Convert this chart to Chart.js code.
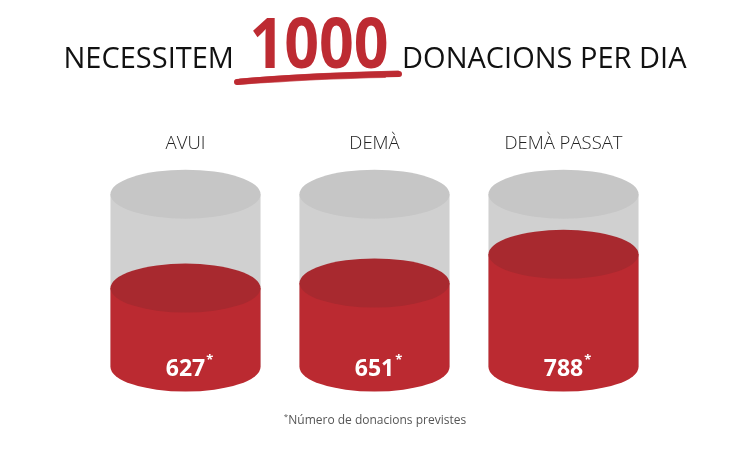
<!DOCTYPE html>
<html>
<head>
<meta charset="utf-8">
<script src="https://cdn.jsdelivr.net/npm/chart.js@4.4.1/dist/chart.umd.min.js"></script>
<style>
  html, body { margin: 0; padding: 0; background: #fff; }
  #wrap { position: relative; width: 750px; height: 462px; font-family: "Open Sans", sans-serif; }
  #title {
    position: absolute; left: 0; top: 6px; width: 750px;
    display: flex; justify-content: center; align-items: baseline;
    color: #111; font-size: 29px; line-height: 1;
  }
  #title .big {
    display: inline-block; color: #bd2b32; font-weight: 700; font-size: 70px;
    transform: scaleX(0.87); transform-origin: center;
    margin: 0 3px 0 5px;
  }
  #scribble { position: absolute; left: 0; top: 0; }
  #note {
    position: absolute; left: 0; top: 410px; width: 750px; text-align: center;
    font-size: 12px; color: #555;
  }
  #note sup { font-size: 8px; }
  canvas { position: absolute; left: 0; top: 0; }
</style>
</head>
<body>
<div id="wrap">
  <canvas id="cylChart" width="750" height="462"></canvas>
  <div id="title"><span>NECESSITEM</span><span class="big">1000</span><span>DONACIONS PER DIA</span></div>
  <svg id="scribble" width="750" height="100">
    <path d="M237 82 C 290 77, 350 75, 399 74" stroke="#bd2b32" stroke-width="6" fill="none" stroke-linecap="round"/>
    <path d="M240 80 C 300 75, 350 73, 398 72" stroke="#bd2b32" stroke-width="3" fill="none" stroke-linecap="round" opacity="0.8"/>
    <path d="M238 84 C 280 81, 330 78, 385 77" stroke="#bd2b32" stroke-width="2" fill="none" stroke-linecap="round" opacity="0.7"/>
  </svg>
  <div id="note"><sup>*</sup>Número de donacions previstes</div>
</div>
<script>
const days = ["AVUI", "DEMÀ", "DEMÀ PASSAT"];
const donations = [627, 651, 788];
const scaleMin = 250;
const scaleMax = 1075;

const RY = 24.5;

const cylinders = {
  id: 'cylinders',
  beforeDatasetsDraw(chart) {
    const ctx = chart.ctx;
    const top = chart.chartArea.top;
    chart.getDatasetMeta(0).data.forEach(bar => {
      const rx = bar.width / 2;
      ctx.save();
      ctx.fillStyle = '#d0d0d0';
      ctx.fillRect(bar.x - rx, top, bar.width, bar.base - top);
      ctx.fillStyle = '#c6c6c6';
      ctx.beginPath();
      ctx.ellipse(bar.x, top, rx, RY, 0, 0, Math.PI * 2);
      ctx.fill();
      ctx.restore();
    });
  },
  afterDatasetsDraw(chart) {
    const ctx = chart.ctx;
    chart.getDatasetMeta(0).data.forEach((bar, i) => {
      const rx = bar.width / 2;
      ctx.save();
      ctx.fillStyle = '#bb2a31';
      ctx.beginPath();
      ctx.ellipse(bar.x, bar.base, rx, RY, 0, 0, Math.PI);
      ctx.fill();
      ctx.fillStyle = '#a8292f';
      ctx.beginPath();
      ctx.ellipse(bar.x, bar.y, rx, RY, 0, 0, Math.PI * 2);
      ctx.fill();

      const txt = String(donations[i]);
      ctx.fillStyle = '#fff';
      ctx.font = 'bold 23px "Open Sans"';
      ctx.textAlign = 'center';
      ctx.textBaseline = 'alphabetic';
      const w = ctx.measureText(txt).width;
      ctx.fillText(txt, bar.x, bar.base + 9);
      ctx.font = 'bold 13px "Open Sans"';
      ctx.textAlign = 'left';
      ctx.fillText('*', bar.x + w / 2 + 1, bar.base - 3);
      ctx.restore();
    });
  }
};

new Chart(document.getElementById('cylChart'), {
  type: 'bar',
  data: {
    labels: days,
    datasets: [{
      data: donations,
      base: scaleMin,
      backgroundColor: '#bb2a31',
      borderWidth: 0,
      categoryPercentage: 1,
      barPercentage: 0.794
    }]
  },
  options: {
    responsive: false,
    animation: false,
    layout: { padding: { left: 91, right: 92, top: 94, bottom: 95 } },
    plugins: { legend: { display: false }, tooltip: { enabled: false } },
    scales: {
      x: {
        position: 'top',
        grid: { display: false, drawTicks: false },
        border: { display: false },
        ticks: { color: '#222', padding: 39, font: { family: 'Open Sans', size: 18.5, weight: '300' } }
      },
      y: { display: false, beginAtZero: false, min: scaleMin, max: scaleMax }
    }
  },
  plugins: [cylinders]
});
</script>
</body>
</html>
